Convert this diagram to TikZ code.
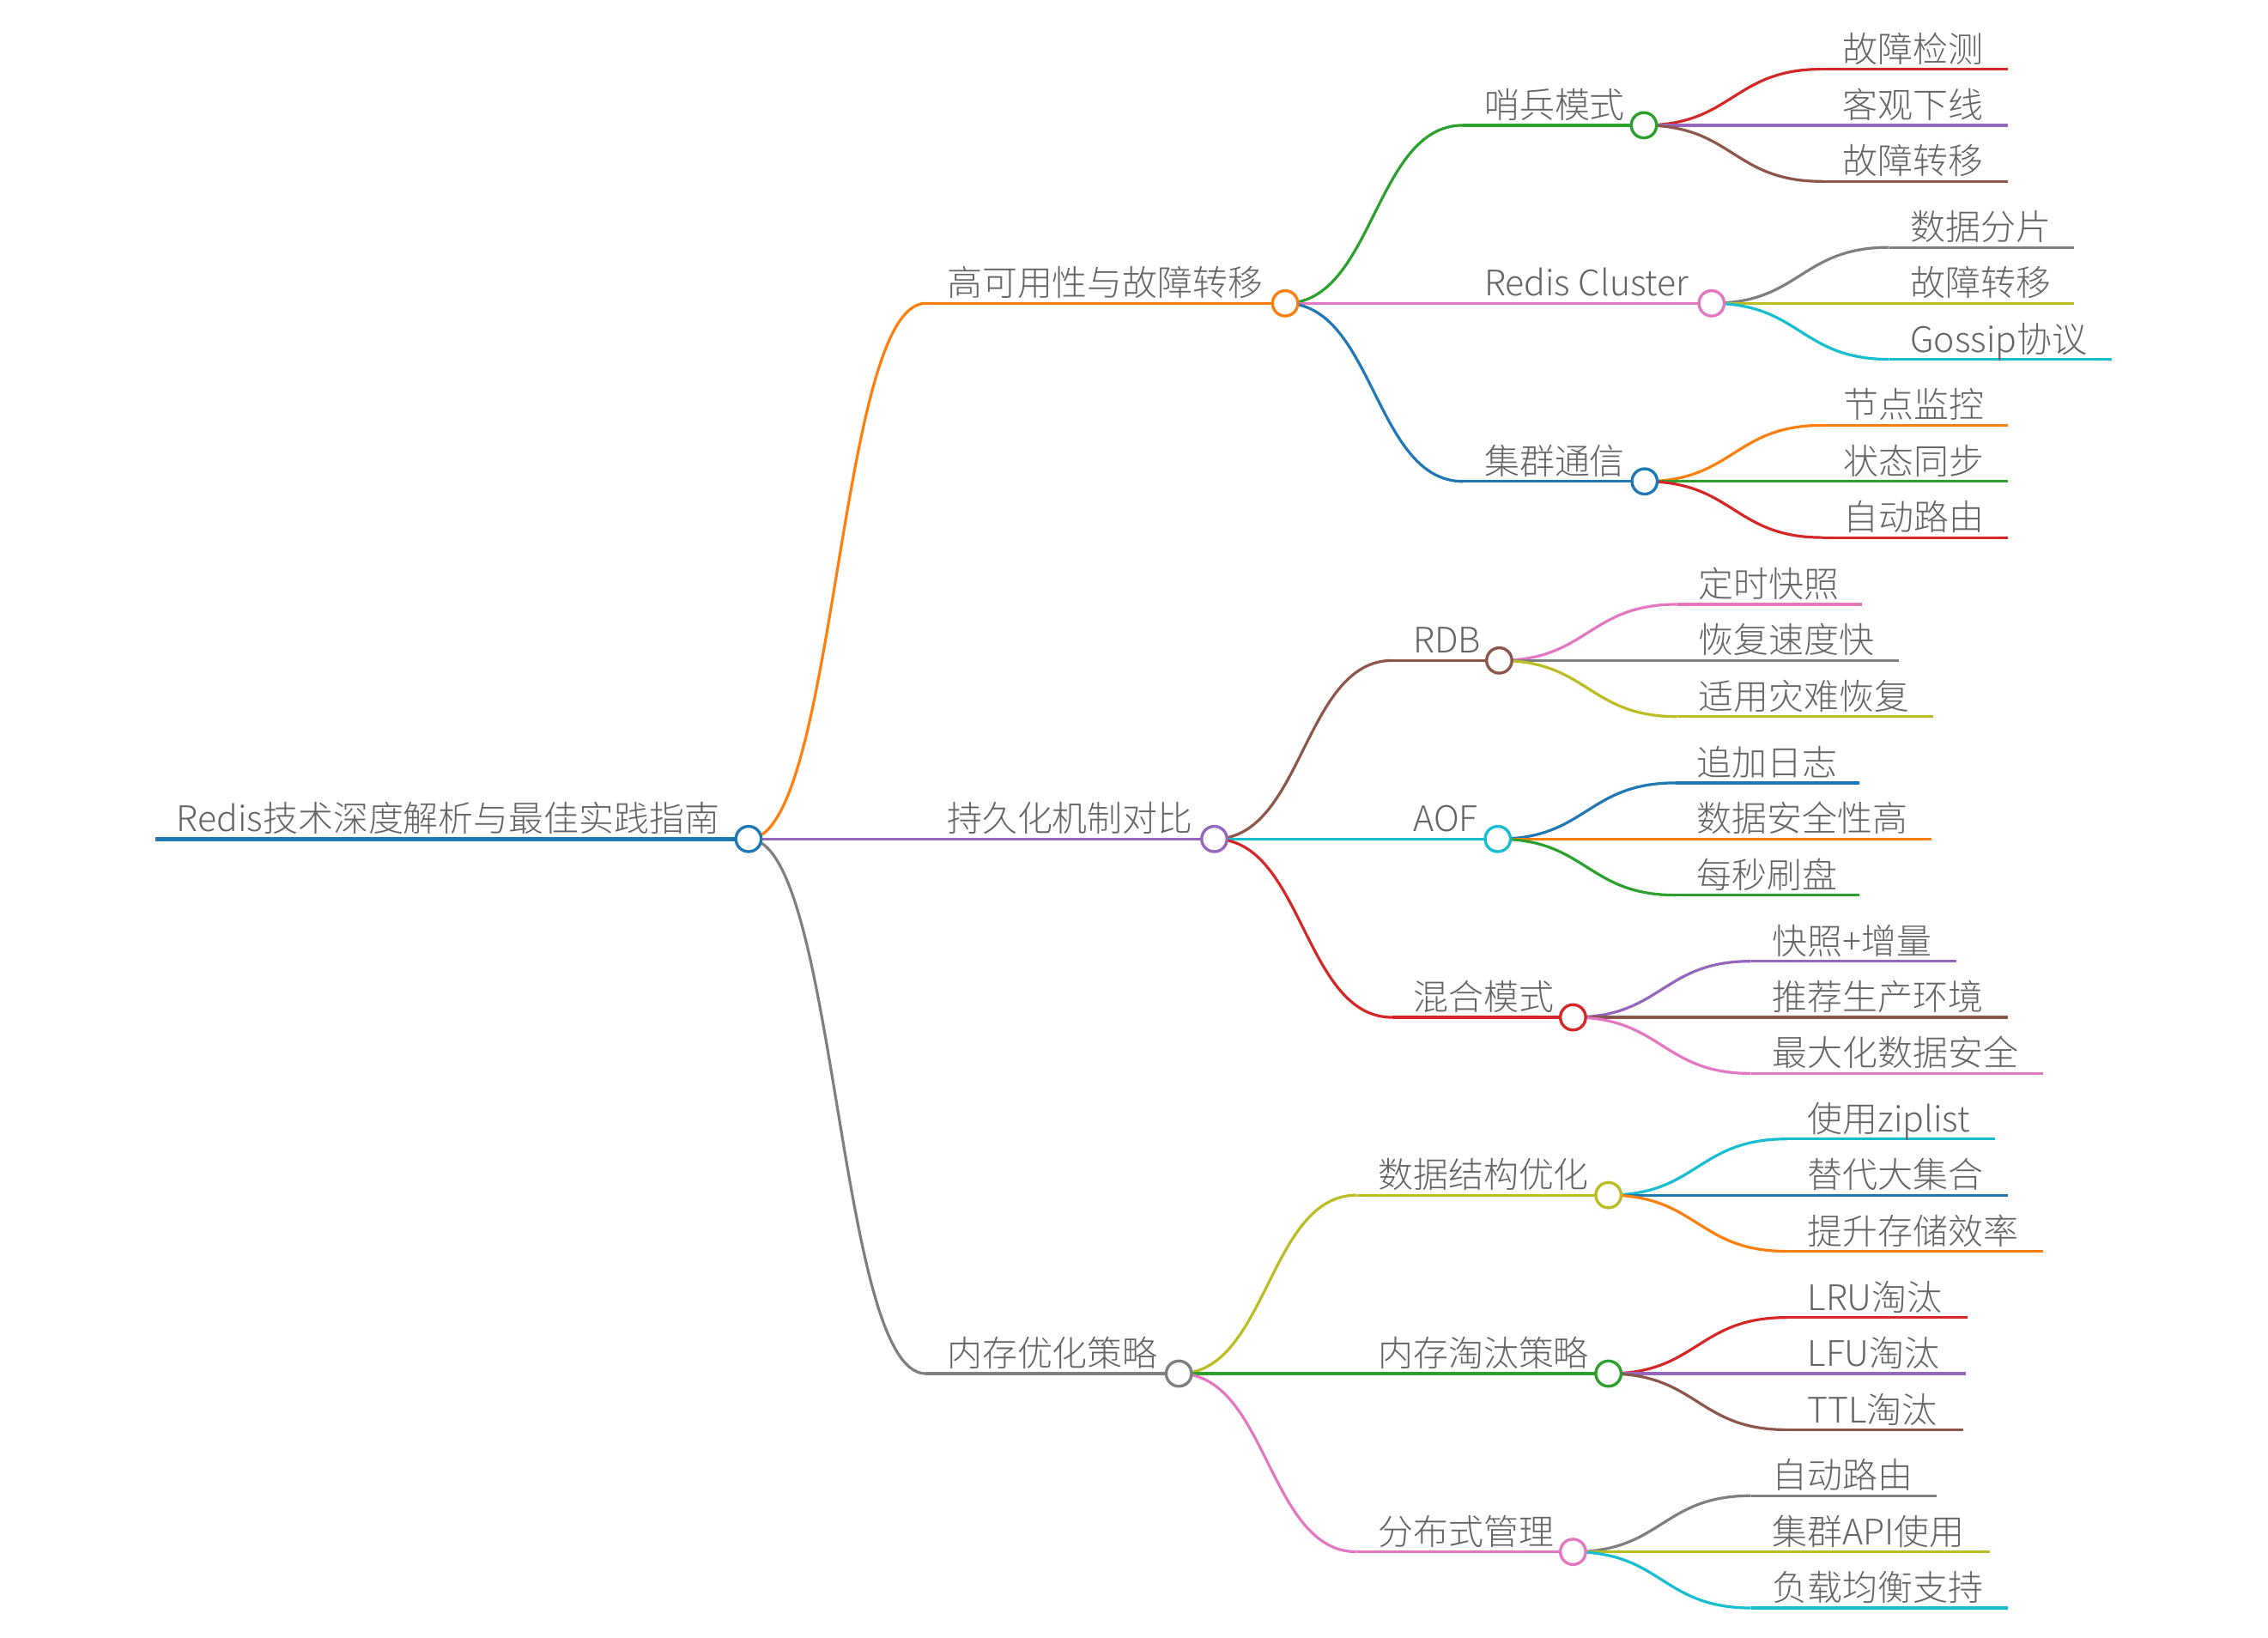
\documentclass[tikz,border=0pt]{standalone}
\usepackage{fontspec}
\IfFontExistsTF{Noto Sans CJK SC Light}{\setmainfont{Noto Sans CJK SC Light}\def\fontgray{646464}}{%
  \IfFontExistsTF{Noto Sans CJK SC DemiLight}{\setmainfont{Noto Sans CJK SC DemiLight}\def\fontgray{666666}}{%
    \setmainfont{Noto Sans CJK SC}\def\fontgray{6E6E6E}}}
\usetikzlibrary{calc}
\definecolor{mblue}{HTML}{1F77B4}
\definecolor{morange}{HTML}{FF7F0E}
\definecolor{mgreen}{HTML}{2CA02C}
\definecolor{mred}{HTML}{D62728}
\definecolor{mpurple}{HTML}{9467BD}
\definecolor{mbrown}{HTML}{8C564B}
\definecolor{mpink}{HTML}{E377C2}
\definecolor{mgray}{HTML}{7F7F7F}
\definecolor{molive}{HTML}{BCBD22}
\definecolor{mcyan}{HTML}{17BECF}
\definecolor{txtgray}{HTML}{\fontgray}
\newcommand\mmnode[6]{%
  \coordinate (#1-s) at (#3,#5);
  \coordinate (#1-e) at (#4,#5);
  \draw[#2, lw] (#1-s) -- (#1-e);
  \node[lbl] (#1) at ({#3+14.5},{#5-5}) {#6};
}
\newcommand\mmlink[3]{%
  \draw[#1, lw] let \p1=(#2-e), \p2=(#3-s) in
    (#2-e) .. controls ({(\x1+\x2)/2},\y1) and ({(\x1+\x2)/2},\y2) .. (#3-s);
}
\newcommand\mmcirc[2]{%
  \node[circ, draw=#2] (#1-c) at (#1-e) {};
}
\begin{document}
\begin{tikzpicture}[x=1pt,y=-1pt,
  lw/.style={line width=1.9pt},
  lbl/.style={inner sep=0pt, anchor=base west, text=txtgray, font=\fontsize{24.3}{29}\selectfont},
  circ/.style={circle, fill=white, line width=2pt, minimum size=17.5pt, inner sep=0pt}]
\useasboundingbox (0,0) rectangle (1568,1132.3);

% links
\coordinate (R-s) at (107.5,580);
\coordinate (R-e) at (517.5,580);
\coordinate (A-s) at (640,209.7);
\coordinate (B-s) at (640,580);
\coordinate (C-s) at (640,949.6);
\mmlink{morange}{R}{A}
\mmlink{mpurple}{R}{B}
\mmlink{mgray}{R}{C}

% root
\draw[mblue, line width=3pt] (R-s) -- (R-e);
\node[lbl] (R) at (122,575) {Redis技术深度解析与最佳实践指南};

% level 1
\mmnode{A}{morange}{640}{888.5}{209.7}{高可用性与故障转移}
\mmnode{B}{mpurple}{640}{839.5}{580}{持久化机制对比}
\mmnode{C}{mgray}{640}{815}{949.6}{内存优化策略}

% level 2
\mmnode{A1}{mgreen}{1011.5}{1136.5}{86.6}{哨兵模式}
\mmnode{A2}{mpink}{1011.5}{1183.3}{209.7}{Redis Cluster}
\mmnode{A3}{mblue}{1011.5}{1137}{332.8}{集群通信}
\mmnode{B1}{mbrown}{962.5}{1036.5}{456.6}{RDB}
\mmnode{B2}{mcyan}{962.5}{1035.5}{580}{AOF}
\mmnode{B3}{mred}{962.5}{1087.5}{703.3}{混合模式}
\mmnode{C1}{molive}{938}{1112}{826.2}{数据结构优化}
\mmnode{C2}{mgreen}{938}{1112}{949.6}{内存淘汰策略}
\mmnode{C3}{mpink}{938}{1087.5}{1072.8}{分布式管理}
\mmlink{mgreen}{A}{A1}
\mmlink{mpink}{A}{A2}
\mmlink{mblue}{A}{A3}
\mmlink{mbrown}{B}{B1}
\mmlink{mcyan}{B}{B2}
\mmlink{mred}{B}{B3}
\mmlink{molive}{C}{C1}
\mmlink{mgreen}{C}{C2}
\mmlink{mpink}{C}{C3}

% level 3
\mmnode{A1a}{mred}{1259.5}{1388}{47.8}{故障检测}
\mmnode{A1b}{mpurple}{1259.5}{1388}{86.6}{客观下线}
\mmnode{A1c}{mbrown}{1259.5}{1388}{125.4}{故障转移}
\mmnode{A2a}{mgray}{1306}{1434}{171}{数据分片}
\mmnode{A2b}{molive}{1306}{1434}{209.7}{故障转移}
\mmnode{A2c}{mcyan}{1306}{1460}{248.4}{Gossip协议}
\mmnode{A3a}{morange}{1260}{1388}{294}{节点监控}
\mmnode{A3b}{mgreen}{1260}{1388}{332.8}{状态同步}
\mmnode{A3c}{mred}{1260}{1388}{371.6}{自动路由}
\mmnode{B1a}{mpink}{1159.5}{1287.5}{417.8}{定时快照}
\mmnode{B1b}{mgray}{1159.5}{1312.5}{456.6}{恢复速度快}
\mmnode{B1c}{molive}{1159.5}{1336.5}{495.4}{适用灾难恢复}
\mmnode{B2a}{mblue}{1158.5}{1285.5}{541.2}{追加日志}
\mmnode{B2b}{morange}{1158.5}{1335.5}{580}{数据安全性高}
\mmnode{B2c}{mgreen}{1158.5}{1285.5}{618.8}{每秒刷盘}
\mmnode{B3a}{mpurple}{1210.5}{1352.5}{664.5}{快照+增量}
\mmnode{B3b}{mbrown}{1210.5}{1388}{703.3}{推荐生产环境}
\mmnode{B3c}{mpink}{1210.5}{1412.5}{742.1}{最大化数据安全}
\mmnode{C1a}{mcyan}{1235}{1379}{787.4}{使用ziplist}
\mmnode{C1b}{mblue}{1235}{1388}{826.2}{替代大集合}
\mmnode{C1c}{morange}{1235}{1412.5}{865}{提升存储效率}
\mmnode{C2a}{mred}{1235}{1360.5}{910.8}{LRU淘汰}
\mmnode{C2b}{mpurple}{1235}{1359}{949.6}{LFU淘汰}
\mmnode{C2c}{mbrown}{1235}{1357.5}{988.4}{TTL淘汰}
\mmnode{C3a}{mgray}{1210.5}{1339}{1034}{自动路由}
\mmnode{C3b}{molive}{1210.5}{1375.5}{1072.8}{集群API使用}
\mmnode{C3c}{mcyan}{1210.5}{1388}{1111.6}{负载均衡支持}
\mmlink{mred}{A1}{A1a}
\mmlink{mpurple}{A1}{A1b}
\mmlink{mbrown}{A1}{A1c}
\mmlink{mgray}{A2}{A2a}
\mmlink{molive}{A2}{A2b}
\mmlink{mcyan}{A2}{A2c}
\mmlink{morange}{A3}{A3a}
\mmlink{mgreen}{A3}{A3b}
\mmlink{mred}{A3}{A3c}
\mmlink{mpink}{B1}{B1a}
\mmlink{mgray}{B1}{B1b}
\mmlink{molive}{B1}{B1c}
\mmlink{mblue}{B2}{B2a}
\mmlink{morange}{B2}{B2b}
\mmlink{mgreen}{B2}{B2c}
\mmlink{mpurple}{B3}{B3a}
\mmlink{mbrown}{B3}{B3b}
\mmlink{mpink}{B3}{B3c}
\mmlink{mcyan}{C1}{C1a}
\mmlink{mblue}{C1}{C1b}
\mmlink{morange}{C1}{C1c}
\mmlink{mred}{C2}{C2a}
\mmlink{mpurple}{C2}{C2b}
\mmlink{mbrown}{C2}{C2c}
\mmlink{mgray}{C3}{C3a}
\mmlink{molive}{C3}{C3b}
\mmlink{mcyan}{C3}{C3c}

% circles
\mmcirc{R}{mblue}
\mmcirc{A}{morange}
\mmcirc{B}{mpurple}
\mmcirc{C}{mgray}
\mmcirc{A1}{mgreen}
\mmcirc{A2}{mpink}
\mmcirc{A3}{mblue}
\mmcirc{B1}{mbrown}
\mmcirc{B2}{mcyan}
\mmcirc{B3}{mred}
\mmcirc{C1}{molive}
\mmcirc{C2}{mgreen}
\mmcirc{C3}{mpink}
\end{tikzpicture}
\end{document}
